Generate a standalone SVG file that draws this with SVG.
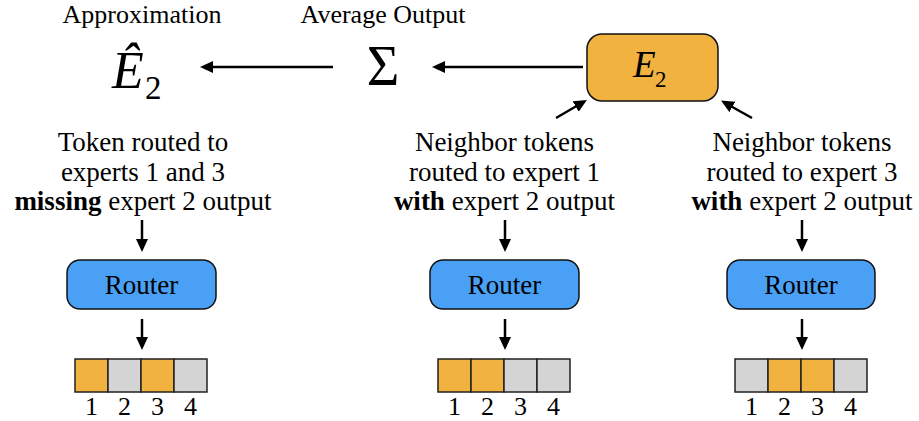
<svg xmlns="http://www.w3.org/2000/svg" width="919" height="421" viewBox="0 0 919 421">
<style>
.lbl{font-family:'Liberation Serif',serif;font-size:27px;text-anchor:middle}
.top{font-family:'Liberation Serif',serif;font-size:26px;text-anchor:middle}
.num{font-family:'Liberation Serif',serif;font-size:26px;text-anchor:middle}
.math{font-family:'Liberation Serif',serif}
.router{fill:#49A0F5;stroke:#111;stroke-width:1.5}
.exp{fill:#F2B23F;stroke:#111;stroke-width:1.5}
.cellon{fill:#F2B23F;stroke:#222;stroke-width:1.5}
.celloff{fill:#D4D4D4;stroke:#222;stroke-width:1.5}
.arr{stroke:#000;stroke-width:2.5;fill:none}
</style>
<defs>
<marker id="ah" markerUnits="userSpaceOnUse" markerWidth="15" markerHeight="13" refX="2" refY="6" orient="auto">
<path d="M0,0 L13,6 L0,12 z" fill="#000"/>
</marker>
</defs>

<g id="approx">
<text class="top" x="142" y="23">Approximation</text>
<text class="math" x="112" y="88" font-size="52" font-style="italic">Ê</text>
<text class="math" x="145" y="99" font-size="33">2</text>
</g>

<g id="sum">
<text class="top" x="383" y="23">Average Output</text>
<text class="math" x="383" y="85" font-size="56" text-anchor="middle">Σ</text>
</g>

<g id="expert2">
<rect class="exp" x="587" y="34" width="131" height="67" rx="15"/>
<text class="math" x="633" y="77" font-size="37" font-style="italic">E</text>
<text class="math" x="655" y="87" font-size="23">2</text>
</g>

<g id="col1">
<text class="lbl" x="143" y="151">Token routed to</text>
<text class="lbl" x="143" y="180.5">experts 1 and 3</text>
<text class="lbl" x="143" y="210"><tspan font-weight="bold">missing</tspan> expert 2 output</text>
</g>
<g id="router1">
<rect class="router" x="67" y="260" width="149" height="49" rx="13"/>
<text class="lbl" x="141.5" y="293.5">Router</text>
</g>
<g id="experts1">
<rect class="cellon" x="75" y="359" width="33" height="33"/>
<rect class="celloff" x="108" y="359" width="33" height="33"/>
<rect class="cellon" x="141" y="359" width="33" height="33"/>
<rect class="celloff" x="174" y="359" width="33" height="33"/>
<text class="num" x="91.5" y="415">1</text>
<text class="num" x="124.5" y="415">2</text>
<text class="num" x="157.5" y="415">3</text>
<text class="num" x="190.5" y="415">4</text>
</g>

<g id="col2">
<text class="lbl" x="504.5" y="151">Neighbor tokens</text>
<text class="lbl" x="504.5" y="180.5">routed to expert 1</text>
<text class="lbl" x="504.5" y="210"><tspan font-weight="bold">with</tspan> expert 2 output</text>
</g>
<g id="router2">
<rect class="router" x="430" y="260" width="149" height="49" rx="13"/>
<text class="lbl" x="504.5" y="293.5">Router</text>
</g>
<g id="experts2">
<rect class="cellon" x="438" y="359" width="33" height="33"/>
<rect class="cellon" x="471" y="359" width="33" height="33"/>
<rect class="celloff" x="504" y="359" width="33" height="33"/>
<rect class="celloff" x="537" y="359" width="33" height="33"/>
<text class="num" x="454.5" y="415">1</text>
<text class="num" x="487.5" y="415">2</text>
<text class="num" x="520.5" y="415">3</text>
<text class="num" x="553.5" y="415">4</text>
</g>

<g id="col3">
<text class="lbl" x="802" y="151">Neighbor tokens</text>
<text class="lbl" x="802" y="180.5">routed to expert 3</text>
<text class="lbl" x="802" y="210"><tspan font-weight="bold">with</tspan> expert 2 output</text>
</g>
<g id="router3">
<rect class="router" x="727" y="260" width="148" height="49" rx="13"/>
<text class="lbl" x="801" y="293.5">Router</text>
</g>
<g id="experts3">
<rect class="celloff" x="735" y="359" width="33" height="33"/>
<rect class="cellon" x="768" y="359" width="33" height="33"/>
<rect class="cellon" x="801" y="359" width="33" height="33"/>
<rect class="celloff" x="834" y="359" width="33" height="33"/>
<text class="num" x="751.5" y="415">1</text>
<text class="num" x="784.5" y="415">2</text>
<text class="num" x="817.5" y="415">3</text>
<text class="num" x="850.5" y="415">4</text>
</g>

<g id="connectors">
<line class="arr" x1="333" y1="67" x2="211" y2="67" marker-end="url(#ah)"/>
<line class="arr" x1="583" y1="67" x2="443" y2="67" marker-end="url(#ah)"/>
<line class="arr" x1="556" y1="118" x2="577.4" y2="105.5" marker-end="url(#ah)"/>
<line class="arr" x1="752" y1="118" x2="730.6" y2="106" marker-end="url(#ah)"/>
<line class="arr" x1="142" y1="220" x2="142" y2="241" marker-end="url(#ah)"/>
<line class="arr" x1="142" y1="319" x2="142" y2="339" marker-end="url(#ah)"/>
<line class="arr" x1="505" y1="220" x2="505" y2="241" marker-end="url(#ah)"/>
<line class="arr" x1="505" y1="319" x2="505" y2="339" marker-end="url(#ah)"/>
<line class="arr" x1="802" y1="220" x2="802" y2="241" marker-end="url(#ah)"/>
<line class="arr" x1="802" y1="319" x2="802" y2="339" marker-end="url(#ah)"/>
</g>
</svg>
